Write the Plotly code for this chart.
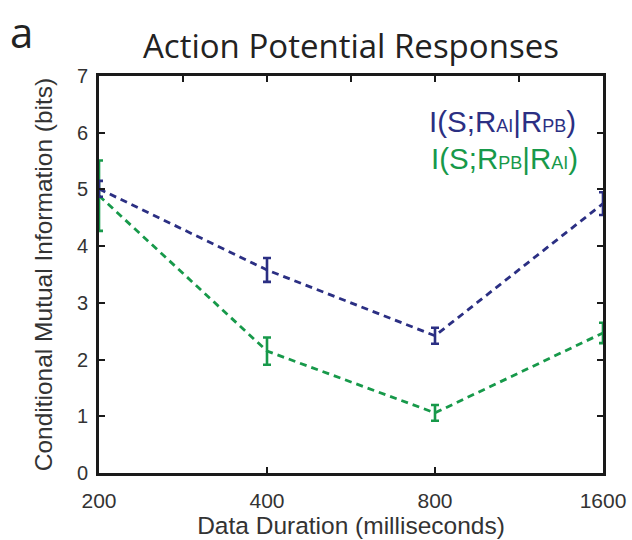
import plotly.graph_objects as go

durations = [200, 400, 800, 1600]
tick_labels = ["200", "400", "800", "1600"]
ai_given_pb = [5.01, 3.58, 2.42, 4.75]
ai_given_pb_err = [0.14, 0.21, 0.14, 0.20]
pb_given_ai = [4.89, 2.15, 1.06, 2.47]
pb_given_ai_err = [0.62, 0.24, 0.14, 0.18]
top_ticks = [283, 400, 566, 800, 1131]
y_ticks = [0, 1, 2, 3, 4, 5, 6, 7]

BLUE = "#2B2F83"
GREEN = "#17994A"
AX = "#1a1a1a"
FONT = "Liberation Sans, Arial, sans-serif"
TXT = "#333"

fig = go.Figure()
fig.add_trace(go.Scatter(
    x=durations, y=pb_given_ai, mode="lines",
    line=dict(color=GREEN, width=2.8, dash="7px,5px"),
    error_y=dict(type="data", array=pb_given_ai_err, color=GREEN, thickness=2.6, width=4),
    showlegend=False, cliponaxis=False))
fig.add_trace(go.Scatter(
    x=durations, y=ai_given_pb, mode="lines",
    line=dict(color=BLUE, width=2.8, dash="7px,5px"),
    error_y=dict(type="data", array=ai_given_pb_err, color=BLUE, thickness=2.6, width=4),
    showlegend=False, cliponaxis=False))
# invisible trace for the top / right tick axes
fig.add_trace(go.Scatter(x=[200, 1600], y=[0, 7], xaxis="x2", yaxis="y2",
                         mode="markers", marker=dict(opacity=0), showlegend=False, hoverinfo="skip"))

common = dict(ticks="inside", ticklen=6, tickwidth=2, tickcolor=AX,
              showline=True, linecolor=AX, linewidth=3, showgrid=False, zeroline=False,
              automargin=False)

fig.update_layout(
    template="none",
    width=632, height=540,
    margin=dict(l=99, r=29, t=76, b=67),
    paper_bgcolor="white", plot_bgcolor="white",
    font=dict(family=FONT, size=20, color=TXT),
    xaxis=dict(type="log", range=[2.30103, 3.20412], tickvals=durations, ticktext=tick_labels,
               tickfont=dict(family=FONT, size=21, color=TXT), ticklabelstandoff=7,
               title=dict(text="Data Duration (milliseconds)", standoff=2,
                          font=dict(family=FONT, size=24.5, color=TXT)), **common),
    xaxis2=dict(type="log", range=[2.30103, 3.20412], overlaying="x", side="top",
                tickvals=top_ticks, showticklabels=False, **common),
    yaxis=dict(range=[0, 7], tickvals=y_ticks,
               tickfont=dict(family=FONT, size=20, color=TXT), ticklabelstandoff=4,
               title=dict(text="Conditional Mutual Information (bits)", standoff=18,
                          font=dict(family=FONT, size=24.5, color=TXT)), **common),
    yaxis2=dict(range=[0, 7], overlaying="y", side="right", tickvals=y_ticks,
                showticklabels=False, **common),
)

fig.add_annotation(text="Action Potential Responses", xref="paper", yref="paper",
                   x=0.5, y=1.0, yshift=31, xanchor="center", yanchor="middle", showarrow=False,
                   font=dict(family="Open Sans, Noto Sans, sans-serif", size=33, color="#222"))
fig.add_annotation(text="a", xref="paper", yref="paper", x=-0.18, y=1.0, yshift=45,
                   xanchor="left", yanchor="middle", showarrow=False,
                   font=dict(family="Open Sans, Noto Sans, sans-serif", size=42, color="#222"))

sub = '<span style="font-size:18px">{}</span>'
fig.add_annotation(text="I(S;R" + sub.format("AI") + "|R" + sub.format("PB") + ")",
                   xref="paper", yref="paper", x=0.95, y=0.885, xanchor="right", yanchor="middle",
                   showarrow=False, font=dict(family=FONT, size=29.5, color=BLUE))
fig.add_annotation(text="I(S;R" + sub.format("PB") + "|R" + sub.format("AI") + ")",
                   xref="paper", yref="paper", x=0.955, y=0.792, xanchor="right", yanchor="middle",
                   showarrow=False, font=dict(family=FONT, size=29.5, color=GREEN))

fig.write_html("out.html")
